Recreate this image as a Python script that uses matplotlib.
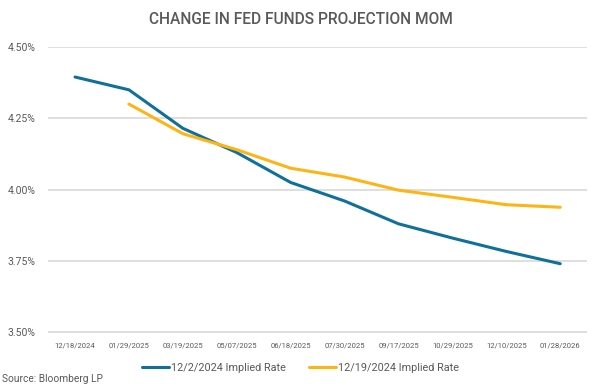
import matplotlib.pyplot as plt
from matplotlib.ticker import FuncFormatter

plt.rcParams['font.family'] = ['Roboto', 'DejaVu Sans']

dates = ["12/18/2024", "01/29/2025", "03/19/2025", "05/07/2025", "06/18/2025",
         "07/30/2025", "09/17/2025", "10/29/2025", "12/10/2025", "01/28/2026"]
rate_dec2 = [4.395, 4.35, 4.215, 4.13, 4.025, 3.96, 3.88, 3.83, 3.783, 3.74]
rate_dec19 = [None, 4.30, 4.196, 4.14, 4.075, 4.044, 3.998, 3.973, 3.947, 3.938]

blue = "#0f709a"
orange = "#fdb515"
txt = "#595959"

fig = plt.figure(figsize=(6.01, 3.89), dpi=100)
ax = fig.add_axes([0.08, 0.144, 0.897, 0.735])

x = list(range(len(dates)))
ax.plot(x, rate_dec2, color=blue, lw=2.2, label="12/2/2024 Implied Rate", solid_capstyle='round')
x2 = [i for i, v in zip(x, rate_dec19) if v is not None]
y2 = [v for v in rate_dec19 if v is not None]
ax.plot(x2, y2, color=orange, lw=2.2, label="12/19/2024 Implied Rate", solid_capstyle='round')

ax.set_xlim(-0.5, len(dates) - 0.5)
ax.set_ylim(3.497, 4.5)
ax.set_yticks([3.5, 3.75, 4.0, 4.25, 4.5])
ax.yaxis.set_major_formatter(FuncFormatter(lambda v, p: "%.2f%%" % v))
ax.set_xticks(x)
ax.set_xticklabels(dates, fontsize=5.5, color=txt)
ax.tick_params(axis='y', labelsize=7.5, colors=txt, length=0, pad=9)
ax.tick_params(axis='x', length=0, pad=7)
ax.grid(axis='y', color="#d9d9d9", lw=1.2)
ax.set_axisbelow(True)
for s in ax.spines.values():
    s.set_visible(False)

fig.text(0.5, 0.951, "CHANGE IN FED FUNDS PROJECTION MOM", ha='center', va='center',
         fontsize=11.2, color=txt, fontweight='medium')
fig.legend(loc='center', bbox_to_anchor=(0.5, 0.054), ncol=2, frameon=False,
           fontsize=7.8, labelcolor=txt, handlelength=2.5, handletextpad=0.2, columnspacing=2.1)
fig.text(0.004, 0.026, "Source: Bloomberg LP", fontsize=7.3, color=txt, ha='left', va='center')

fig.savefig("out.png", dpi=100)
